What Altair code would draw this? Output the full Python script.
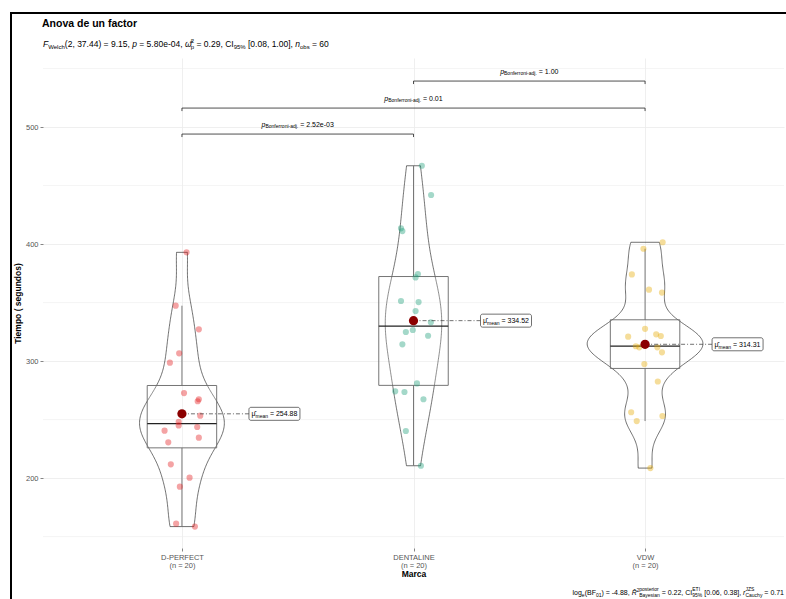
import altair as alt
import pandas as pd
import numpy as np

FONT = "Liberation Sans"

# ---------------- data ----------------
categories = ["D-PERFECT", "DENTALINE", "VDW"]
colors = ["#E41A1C", "#1B9E77", "#E6AB02"]

dperfect = [392.9, 347.3, 327.1, 306.6, 298.6, 272.6, 267.3, 265.6, 253.3, 248.1,
            245.0, 243.6, 240.5, 234.5, 230.5, 211.7, 200.3, 192.6, 161.0, 158.5]
dperfect_jitter = [0.020, -0.027, 0.073, -0.012, -0.052, 0.009, 0.073, 0.068, 0.079, -0.014,
                   -0.014, 0.066, -0.075, 0.073, -0.059, -0.048, 0.033, -0.009, -0.025, 0.056]

dentaline = [466.9, 441.9, 413.4, 411.1, 374.4, 371.5, 351.3, 350.4, 342.7, 333.1,
             326.5, 324.8, 321.6, 314.3, 280.9, 274.1, 273.5, 267.3, 240.2, 210.5]
dentaline_jitter = [0.036, 0.076, -0.054, -0.048, 0.019, 0.009, -0.054, 0.022, 0.009, 0.075,
                    -0.003, -0.033, 0.063, -0.048, 0.015, -0.079, -0.039, 0.043, -0.033, 0.032]

vdw = [401.5, 396.0, 374.0, 361.0, 358.5, 327.5, 322.8, 321.4, 320.8, 312.6,
       311.7, 311.7, 307.4, 297.4, 282.5, 256.2, 253.0, 248.7, 208.5, 313.0]
vdw_jitter = [0.076, -0.007, -0.057, 0.017, 0.073, 0.000, 0.048, 0.068, -0.073, -0.040,
              -0.025, 0.053, 0.073, -0.003, 0.055, -0.060, 0.075, -0.036, 0.023, 0.000]

# pairwise comparisons (group index pairs), bracket heights (data units) and labels
pair_from = [1, 1, 2]
pair_to = [2, 3, 3]
bracket_level = [494.0, 516.2, 539.3]
bracket_p = ["2.52e-03", "0.01", "1.00"]

minor_grid = [150, 250, 350, 450, 550]
major_y = [200, 300, 400, 500]

title_text = "Anova de un factor"
y_title = "Tiempo ( segundos)"
x_title = "Marca"

# ---------------- geometry ----------------
W, H = 741, 490
XDOM = [0.4, 3.6]
YDOM = [140.2, 559.0]
PXU = W / (XDOM[1] - XDOM[0])
PYU = H / (YDOM[1] - YDOM[0])
xsc = alt.Scale(domain=XDOM, nice=False, zero=False)
ysc = alt.Scale(domain=YDOM, nice=False, zero=False)

groups = [dperfect, dentaline, vdw]
jitters = [dperfect_jitter, dentaline_jitter, vdw_jitter]
rows = []
for i, (g, vals, jit) in enumerate(zip(categories, groups, jitters), start=1):
    for v, j in zip(vals, jit):
        rows.append({"Marca": g, "idx": i, "Tiempo": v, "jit": j})
df = pd.DataFrame(rows)

# Arial / Liberation Sans advance widths (per 1000 em)
AW = {' ': 278, '(': 333, ')': 333, ',': 278, '.': 278, '-': 333, '=': 584, '%': 889,
      '[': 278, ']': 278, 'A': 667, 'B': 667, 'C': 722, 'E': 667, 'F': 611, 'I': 278,
      'J': 500, 'R': 722, 'S': 667, 'T': 611, 'W': 944, 'a': 556, 'b': 556, 'c': 500,
      'd': 556, 'e': 556, 'f': 278, 'g': 556, 'h': 556, 'i': 222, 'j': 222, 'l': 222,
      'm': 833, 'n': 556, 'o': 556, 'p': 556, 'r': 333, 's': 500, 't': 278, 'u': 556,
      'y': 500, 'ω': 700, 'μ': 576, '\u0302': 0}


def tw(s, size):
    return sum(AW.get(c, 556) for c in s) * size / 1000.0


one = pd.DataFrame({"k": [0]})


def ptext(txt, x, y, size, style="n", align="left", color="black"):
    kw = dict(text=txt, fontSize=size, align=align, baseline="alphabetic", font=FONT, color=color)
    if style == "i":
        kw["fontStyle"] = "italic"
    if style == "b":
        kw["fontWeight"] = "bold"
    return alt.Chart(one).mark_text(**kw).encode(x=alt.value(x), y=alt.value(y))


def layout(segs, x0, y0, draw=True):
    layers = []
    x = x0
    for seg in segs:
        if seg[0] == "t":
            _, txt, size, style, dy = seg
            lead = len(txt) - len(txt.lstrip(" "))
            body = txt.lstrip(" ")
            if draw and body.strip():
                layers.append(ptext(body, x + tw(" " * lead, size), y0 + dy, size, style))
            x += tw(txt, size)
        else:
            _, sup, sub, size = seg
            if draw:
                layers.append(ptext(sup, x, y0 - 3.6, size))
                layers.append(ptext(sub, x, y0 + 2.0, size))
            x += max(tw(sup, size), tw(sub, size))
    return layers, x - x0


def X(f):
    return alt.X(f, scale=xsc)


def Y(f):
    return alt.Y(f, scale=ysc)


# ---------------- layers ----------------
layers = []

# points (carry the axes)
xlabels = []
for i, (g, vals) in enumerate(zip(categories, groups), start=1):
    xlabels.append(f"['{g}', '(n = {len(vals)})']")
expr = f"datum.value == 1 ? {xlabels[0]} : (datum.value == 2 ? {xlabels[1]} : {xlabels[2]})"

points = alt.Chart(df).transform_calculate(xj="datum.idx + datum.jit").mark_circle(size=38, opacity=0.4).encode(
    x=alt.X("xj:Q", scale=xsc, axis=alt.Axis(
        values=[1, 2, 3], labelExpr=expr, title=x_title, grid=True, gridColor="#EBEBEB",
        gridWidth=0.8, domain=False, tickSize=3, tickColor="#333333", tickWidth=0.6,
        labelFontSize=7.5, labelColor="#555555", labelLineHeight=8.2, labelPadding=2,
        labelFont=FONT, titleFont=FONT, titleFontSize=8.5, titleFontWeight="bold",
        titleColor="black", titlePadding=1)),
    y=alt.Y("Tiempo:Q", scale=ysc, axis=alt.Axis(
        values=major_y, title=y_title, grid=True, gridColor="#EBEBEB", gridWidth=0.8,
        domain=False, tickSize=3, tickColor="#333333", tickWidth=0.6, labelFontSize=7.5,
        labelColor="#555555", labelPadding=2, labelFont=FONT, titleFont=FONT,
        titleFontSize=8.5, titleFontWeight="bold", titleColor="black", titlePadding=3)),
    color=alt.Color("Marca:N", scale=alt.Scale(domain=categories, range=colors), legend=None),
)

# minor grid
layers.append(
    alt.Chart(pd.DataFrame({"g": minor_grid})).mark_rule(color="#EFEFEF", strokeWidth=0.6).encode(
        y=Y("g:Q"), x=alt.value(0), x2=alt.value(W))
)


def bw_nrd0(a):
    a = np.asarray(a, dtype=float)
    sd = a.std(ddof=1)
    iqr = np.percentile(a, 75) - np.percentile(a, 25)
    lo = min(sd, iqr / 1.34)
    return 0.9 * lo * len(a) ** (-0.2)


def kde_max(a, bw):
    a = np.asarray(a, dtype=float)
    grid = np.linspace(a.min(), a.max(), 512)
    d = np.exp(-0.5 * ((grid[:, None] - a[None, :]) / bw) ** 2).sum(axis=1) / (len(a) * bw * np.sqrt(2 * np.pi))
    return d.max()


bws = [bw_nrd0(v) for v in groups]
maxd = max(kde_max(v, b) for v, b in zip(groups, bws))
K = 0.25 / maxd

# violins
for i, (g, vals, bw) in enumerate(zip(categories, groups, bws), start=1):
    layers.append(
        alt.Chart(df).transform_filter(alt.datum.Marca == g).transform_density(
            "Tiempo", as_=["v", "dens"], bandwidth=float(bw),
            extent=[float(min(vals)), float(max(vals))], steps=200
        ).transform_calculate(
            xl=f"{i} - datum.dens * {K}", xr=f"{i} + datum.dens * {K}"
        ).mark_area(orient="horizontal", fill="white", fillOpacity=0, stroke="#333333", strokeWidth=0.7).encode(
            y=Y("v:Q"), x=X("xl:Q"), x2="xr:Q",
        )
    )

# whiskers
wh = alt.Chart(df).transform_joinaggregate(
    q1="q1(Tiempo)", q3="q3(Tiempo)", groupby=["idx"]
).transform_filter(
    "datum.Tiempo >= datum.q1 - 1.5*(datum.q3-datum.q1) && datum.Tiempo <= datum.q3 + 1.5*(datum.q3-datum.q1)"
).transform_aggregate(
    wmin="min(Tiempo)", wmax="max(Tiempo)", groupby=["idx", "q1", "q3"]
)
layers.append(wh.mark_rule(color="#777777", strokeWidth=1.0).encode(x=X("idx:Q"), y=Y("q3:Q"), y2="wmax:Q"))
layers.append(wh.mark_rule(color="#777777", strokeWidth=1.0).encode(x=X("idx:Q"), y=Y("wmin:Q"), y2="q1:Q"))

# box
bx = alt.Chart(df).transform_aggregate(
    q1="q1(Tiempo)", q3="q3(Tiempo)", med="median(Tiempo)", groupby=["idx"]
).transform_calculate(xa="datum.idx - 0.15", xb="datum.idx + 0.15")
layers.append(bx.mark_rect(fill="white", fillOpacity=0.2, stroke="#666666", strokeWidth=0.9).encode(
    x=X("xa:Q"), x2="xb:Q", y=Y("q1:Q"), y2="q3:Q"))
layers.append(bx.mark_rule(color="#222222", strokeWidth=1.2).encode(x=X("xa:Q"), x2="xb:Q", y=Y("med:Q")))

layers.append(points)

# means
mn = alt.Chart(df).transform_aggregate(m="mean(Tiempo)", groupby=["idx"]).transform_calculate(
    bl=f"datum.idx + {67 / PXU}", br=f"datum.idx + {118 / PXU}",
    yl=f"datum.m - {6.5 / PYU}", yh=f"datum.m + {6.5 / PYU}",
    lab="'= ' + format(datum.m, '.2f')")
layers.append(mn.mark_rule(color="#333333", strokeWidth=0.7, strokeDash=[4, 2, 1, 2]).encode(
    x=X("idx:Q"), x2="bl:Q", y=Y("m:Q")))
layers.append(mn.mark_circle(size=85, color="#8B0000", opacity=1).encode(x=X("idx:Q"), y=Y("m:Q")))
layers.append(mn.mark_rect(fill="white", stroke="#333333", strokeWidth=0.7, cornerRadius=2).encode(
    x=X("bl:Q"), x2="br:Q", y=Y("yl:Q"), y2="yh:Q"))
d0 = 2.5
d1 = d0 + tw("μ", 7)
d2 = d1 + tw("mean", 5) + tw(" ", 7)
layers.append(mn.mark_text(text="μ\u0302", fontSize=7, align="left", baseline="alphabetic", font=FONT,
                           dx=d0, dy=2.5, color="black").encode(x=X("bl:Q"), y=Y("m:Q")))
layers.append(mn.mark_text(text="mean", fontSize=5, align="left", baseline="alphabetic", font=FONT,
                           dx=d1, dy=4.3, color="black").encode(x=X("bl:Q"), y=Y("m:Q")))
layers.append(mn.mark_text(fontSize=7, align="left", baseline="alphabetic", font=FONT,
                           dx=d2, dy=2.5, color="black").encode(x=X("bl:Q"), y=Y("m:Q"), text="lab:N"))

# brackets
wp = tw("p", 7)
wsub = tw("Bonferroni-adj.", 5)
bdf = pd.DataFrame({"a": pair_from, "b": pair_to, "yl": bracket_level, "p": bracket_p})
bdf["lab"] = "= " + bdf["p"]
bdf["tot"] = [wp + wsub + tw(" = " + p, 7) for p in bracket_p]
bc = alt.Chart(bdf).transform_calculate(
    tip=f"datum.yl - {3.0 / PYU}",
    xs=f"(datum.a + datum.b) / 2 - datum.tot / 2 / {PXU}")
layers.append(bc.mark_rule(color="#222222", strokeWidth=0.8).encode(x=X("a:Q"), x2="b:Q", y=Y("yl:Q")))
layers.append(bc.mark_rule(color="#222222", strokeWidth=0.8).encode(x=X("a:Q"), y=Y("yl:Q"), y2="tip:Q"))
layers.append(bc.mark_rule(color="#222222", strokeWidth=0.8).encode(x=X("b:Q"), y=Y("yl:Q"), y2="tip:Q"))
layers.append(bc.mark_text(text="p", fontSize=7, fontStyle="italic", align="left", baseline="alphabetic",
                           font=FONT, dx=0, dy=-7.5, color="black").encode(x=X("xs:Q"), y=Y("yl:Q")))
layers.append(bc.mark_text(text="Bonferroni-adj.", fontSize=5, align="left", baseline="alphabetic",
                           font=FONT, dx=wp, dy=-5.7, color="black").encode(x=X("xs:Q"), y=Y("yl:Q")))
layers.append(bc.mark_text(fontSize=7, align="left", baseline="alphabetic",
                           font=FONT, dx=wp + wsub + tw(" ", 7), dy=-7.5, color="black").encode(
    x=X("xs:Q"), y=Y("yl:Q"), text="lab:N"))

# title / subtitle / caption (pixel positions relative to the plot origin)
layers.append(ptext(title_text, -1, -31, 10.5, "b"))
sub_segs = [("t", "F", 8.5, "i", 0), ("t", "Welch", 6, "n", 2), ("t", "(2, 37.44) = 9.15, ", 8.5, "n", 0),
            ("t", "p", 8.5, "i", 0), ("t", " = 5.80e-04, ", 8.5, "n", 0), ("t", "ω\u0302", 8.5, "i", 0),
            ("s", "2", "p", 6), ("t", " = 0.29, CI", 8.5, "n", 0), ("t", "95%", 6, "n", 2),
            ("t", " [0.08, 1.00], ", 8.5, "n", 0), ("t", "n", 8.5, "i", 0), ("t", "obs", 6, "n", 2),
            ("t", " = 60", 8.5, "n", 0)]
sl, _ = layout(sub_segs, 0, -11.5)
layers += sl
cap_segs = [("t", "log", 7, "n", 0), ("t", "e", 5, "n", 1.8), ("t", "(BF", 7, "n", 0), ("t", "01", 5, "n", 1.8),
            ("t", ") = -4.88, ", 7, "n", 0), ("t", "R\u0302", 7, "i", 0), ("t", "2", 4.5, "n", -3.5),
            ("s", "posterior", "Bayesian", 5), ("t", " = 0.22, CI", 7, "n", 0), ("s", "ETI", "95%", 5),
            ("t", " [0.06, 0.38], ", 7, "n", 0), ("t", "r", 7, "i", 0), ("s", "JZS", "Cauchy", 5),
            ("t", " = 0.71", 7, "n", 0)]
_, capw = layout(cap_segs, 0, 0, draw=False)
cl, _ = layout(cap_segs, W - capw, 537)
layers += cl

# outer frame (left and top edges visible in the reference)
layers.append(alt.Chart(one).mark_rule(color="black", strokeWidth=2).encode(
    x=alt.value(-32), y=alt.value(-45), y2=alt.value(H + 60)))
layers.append(alt.Chart(one).mark_rule(color="black", strokeWidth=2).encode(
    x=alt.value(-33), x2=alt.value(W + 10), y=alt.value(-45)))

chart = alt.layer(*layers).properties(
    width=W, height=H,
    autosize=alt.AutoSizeParams(type="none"),
    padding={"left": 43, "top": 58, "right": 2, "bottom": 51},
    background="white",
).configure_view(stroke=None)

chart.save("out.html", embed_options={"renderer": "svg", "actions": False})
